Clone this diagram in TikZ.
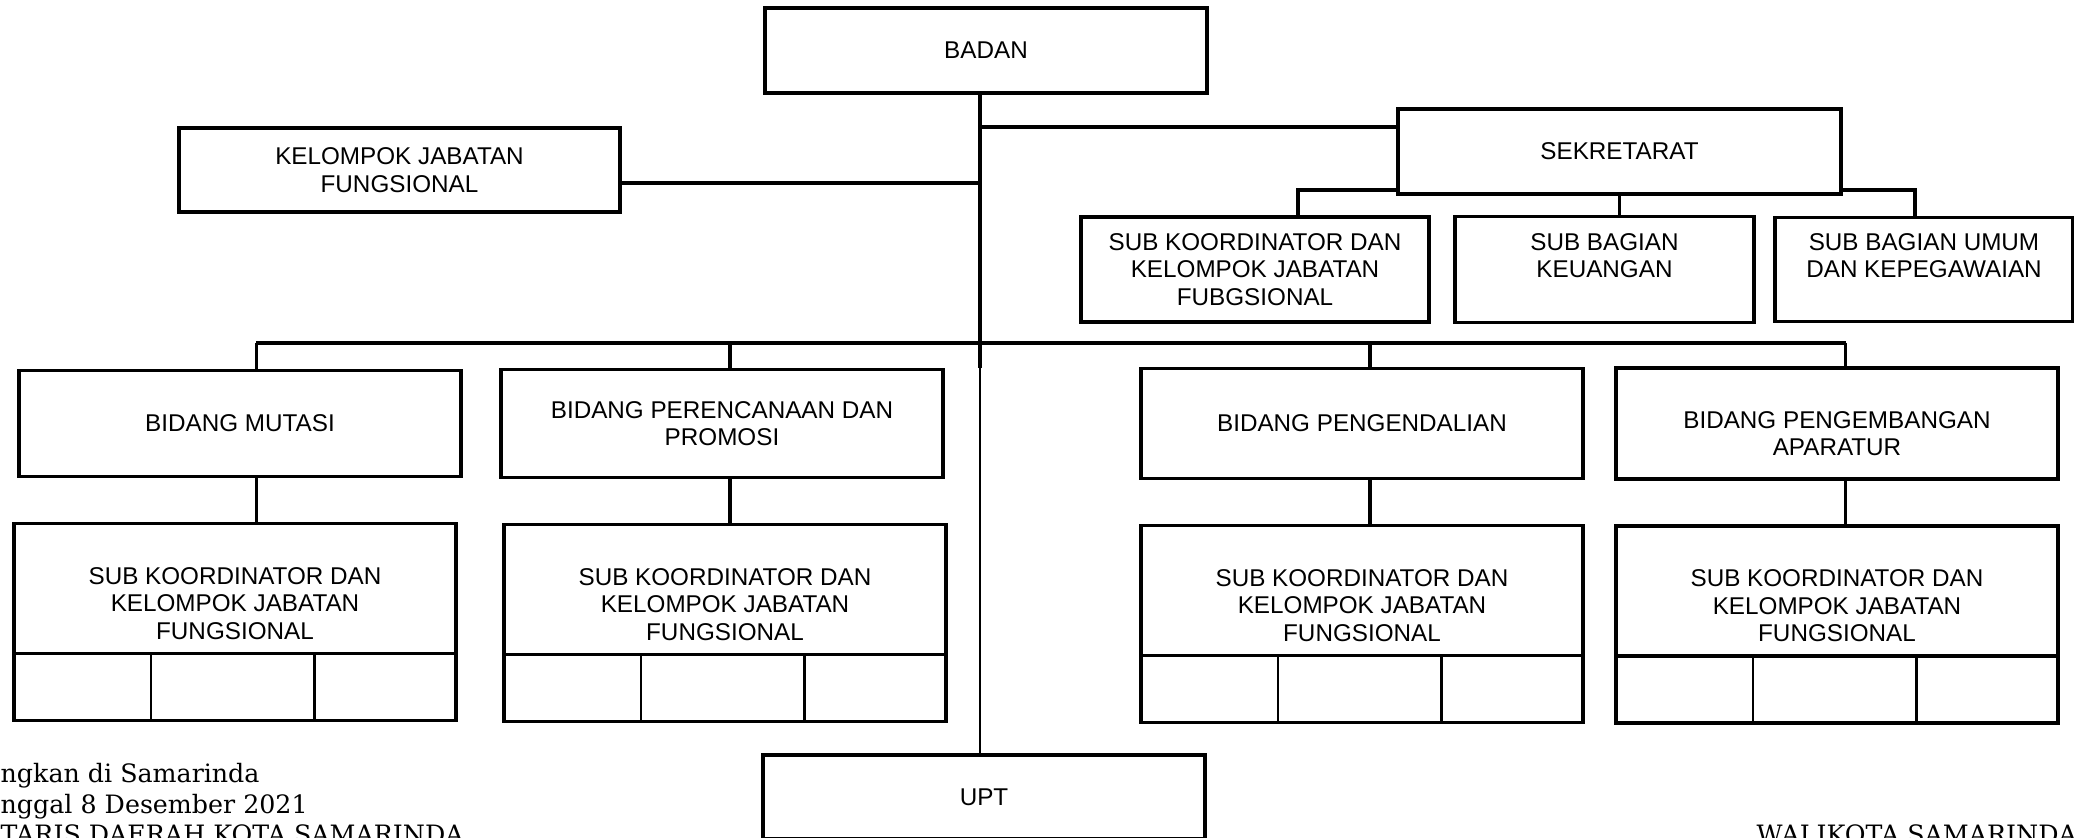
\documentclass[tikz,border=0pt]{standalone}
\usepackage{fontspec}
\setmainfont{Liberation Sans}
\newfontfamily\footfont{DejaVu Serif}
\usepackage{tikz}
\usetikzlibrary{positioning,calc}
\newcommand{\subkoor}{SUB KOORDINATOR DAN\\KELOMPOK JABATAN\\FUNGSIONAL}

\begin{document}
\fontsize{6.9}{7.8}\selectfont
\begin{tikzpicture}[unit/.style={rectangle,draw,line width=1.1pt,outer sep=0pt,inner sep=1pt,align=center,minimum width=4.42cm},
link/.style={line width=1pt},thinlink/.style={line width=0.45pt},divider/.style={line width=0.8pt},
subunit/.style={unit,minimum height=1.30cm,label={[align=center,yshift=-0.15cm]center:\subkoor}},
cellrow/.style={unit,minimum height=0.67cm},
foot/.style={font=\footfont\fontsize{7.2}{8.6}\selectfont,inner sep=0pt}]

\useasboundingbox (0,0) rectangle (20.74,-8.38);

% nodes
\node[unit,minimum height=0.85cm] (badan) at (9.86,-0.505) {BADAN};
\node[unit,minimum width=4.41cm,minimum height=0.84cm] (kjf) at (3.995,-1.70) {KELOMPOK JABATAN\\FUNGSIONAL};
\node[unit,minimum width=4.43cm,minimum height=0.85cm] (sekretariat) at (16.195,-1.515) {SEKRETARAT};

\node[unit,minimum width=3.48cm,minimum height=1.05cm] (subsek) at (12.55,-2.695) {SUB KOORDINATOR DAN\\KELOMPOK JABATAN\\FUBGSIONAL};
\node[unit,right=0.26 of subsek,minimum width=2.99cm,minimum height=1.06cm] (keuangan) {SUB BAGIAN\\KEUANGAN\\ \mbox{}};
\node[unit,right=0.21 of keuangan,minimum width=2.98cm,minimum height=1.04cm] (umum) {SUB BAGIAN UMUM\\DAN KEPEGAWAIAN\\ \mbox{}};

\node[unit,minimum height=1.06cm] (mutasi) at (2.40,-4.235) {BIDANG MUTASI};
\node[unit,right=0.40 of mutasi,minimum height=1.08cm] (perencanaan) {BIDANG PERENCANAAN DAN\\PROMOSI};
\node[unit,right=1.98 of perencanaan,minimum height=1.10cm] (pengendalian) {BIDANG PENGENDALIAN};
\node[unit,right=0.33 of pengendalian,minimum height=1.11cm,
      label={[align=center,yshift=-0.10cm]center:BIDANG PENGEMBANGAN\\APARATUR}] (pengembangan) {};

\node[subunit,below=0.47 of mutasi,xshift=-0.05cm] (sub1) {};
\node[subunit,below=0.47 of perencanaan,xshift=0.03cm] (sub2) {};
\node[subunit,below=0.47 of pengendalian] (sub3) {};
\node[subunit,below=0.47 of pengembangan] (sub4) {};
\foreach \i in {1,...,4}
  \node[cellrow,below=0 of sub\i] (cells\i) {};

\node[unit,minimum height=0.84cm] (upt) at (9.84,-7.97) {UPT};

% hidden points
\coordinate (bus) at (9.80,-3.43);
\coordinate (sb1) at (12.98,-1.90);
\coordinate (sb3) at (19.15,-1.90);

% connectors
\draw[link] (badan.south -| bus) -- ([yshift=-0.25cm]bus);
\draw[thinlink] (bus) -- (bus |- upt.north);
\draw[link] ([yshift=-0.18cm]sekretariat.north west) coordinate (sekin) -- (sekin -| bus);
\draw[link] ([yshift=-0.13cm]kjf.east) coordinate (kjfout) -- (kjfout -| bus);

\draw[link] (sb1 |- subsek.north) -- (sb1) -- (sb1 -| sekretariat.west);
\draw[link] (sb3 |- umum.north) -- (sb3) -- (sb3 -| sekretariat.east);
\draw[link] (sekretariat.south) -- (sekretariat.south |- keuangan.north);

\foreach \b/\s/\dx in {mutasi/sub1/0.165,perencanaan/sub2/0.08,pengendalian/sub3/0.08,pengembangan/sub4/0.085} {
  \path ([xshift=\dx cm]\b.north) coordinate (up\b);
  \draw[link] (up\b) -- (up\b |- bus);
  \draw[link] (up\b |- \b.south) -- (up\b |- \s.north);
}
\draw[link] (upmutasi |- bus) -- (uppengembangan |- bus);

% cells
\foreach \i in {1,...,4}
  \foreach \f in {0.31,0.68}
    \draw[divider] ($(cells\i.north west)!\f!(cells\i.north east)$) -- ($(cells\i.south west)!\f!(cells\i.south east)$);

% footer
\node[foot,anchor=base west] (tempat) at (0,-7.83) {ngkan di Samarinda};
\node[foot,anchor=base west] (tanggal) at (0,-8.14) {nggal 8 Desember 2021};
\node[foot,anchor=base west] (sekda) at (0,-8.44) {TARIS DAERAH KOTA SAMARINDA};
\node[foot,anchor=base west] (walikota) at (17.56,-8.44) {WALIKOTA SAMARINDA};

\end{tikzpicture}
\end{document}
